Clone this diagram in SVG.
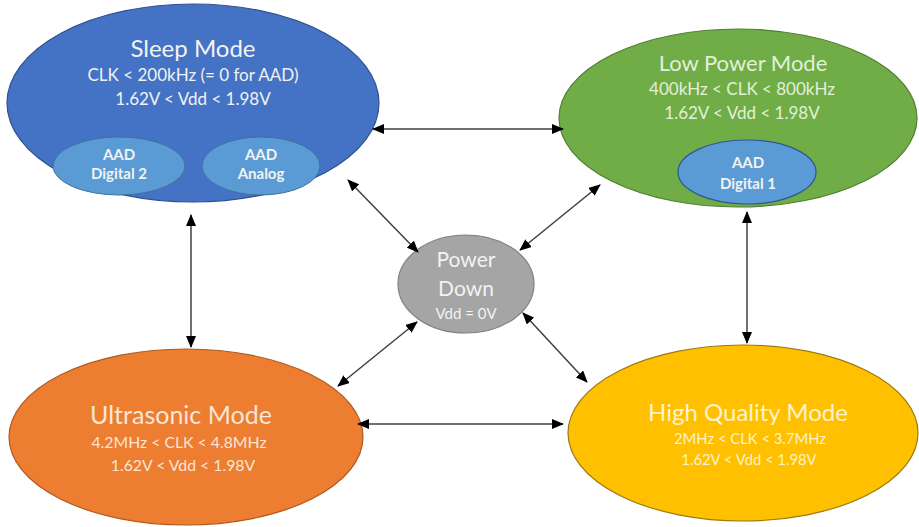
<svg xmlns="http://www.w3.org/2000/svg" width="919" height="527" viewBox="0 0 919 527">
<style>
text{font-family:Lato,"Open Sans","Liberation Sans",sans-serif;text-anchor:middle}
.b{font-size:15px;font-weight:bold;fill:#F2F2F2}
.w{fill:#F2F2F2}
.g{fill:#E2F0D9}
.o{fill:#FBE5D6}
.y{fill:#FFF2CC}
.conn line{stroke:#404040;stroke-width:1.5;marker-start:url(#ah);marker-end:url(#ah)}
</style>
<defs>
<marker id="ah" viewBox="0 0 12 10" refX="11" refY="5" markerWidth="12" markerHeight="10" markerUnits="userSpaceOnUse" orient="auto-start-reverse">
<path d="M0,0 L12,5 L0,10 Z" fill="#000"/>
</marker>
</defs>
<rect width="919" height="527" fill="#fff"/>
<g id="sleep">
<ellipse cx="193" cy="103" rx="186" ry="99" fill="#4472C4" stroke="#2F528F" stroke-width="1.2"/>
<text class="w" x="193" y="57" style="font-size:24px">Sleep Mode</text>
<text class="w" x="193" y="81" style="font-size:17px">CLK &lt; 200kHz (= 0 for AAD)</text>
<text class="w" x="193" y="105" style="font-size:17px">1.62V &lt; Vdd &lt; 1.98V</text>
<g id="aad-digital-2">
<ellipse cx="119" cy="166" rx="66" ry="29" fill="#5B9BD5" stroke="#41719C" stroke-width="1"/>
<text class="b" x="119" y="160">AAD</text>
<text class="b" x="119" y="179">Digital 2</text>
</g>
<g id="aad-analog">
<ellipse cx="261" cy="166" rx="59" ry="29" fill="#5B9BD5" stroke="#41719C" stroke-width="1"/>
<text class="b" x="261" y="160">AAD</text>
<text class="b" x="261" y="179">Analog</text>
</g>
</g>
<g id="low-power">
<ellipse cx="738" cy="118" rx="179" ry="89" fill="#70AD47" stroke="#507E32" stroke-width="1.2"/>
<text class="g" x="743" y="71" style="font-size:22px">Low Power Mode</text>
<text class="g" x="742" y="95" style="font-size:17px">400kHz &lt; CLK &lt; 800kHz</text>
<text class="g" x="742" y="119" style="font-size:17px">1.62V &lt; Vdd &lt; 1.98V</text>
<g id="aad-digital-1">
<ellipse cx="747" cy="172" rx="69" ry="32" fill="#5B9BD5" stroke="#2F5597" stroke-width="1.2"/>
<text class="b" x="748" y="168">AAD</text>
<text class="b" x="748" y="189">Digital 1</text>
</g>
</g>
<g id="power-down">
<ellipse cx="466" cy="284" rx="68" ry="49" fill="#A5A5A5" stroke="#7F7F7F" stroke-width="1.2"/>
<text class="w" x="466" y="267" style="font-size:21px">Power</text>
<text class="w" x="466" y="296" style="font-size:21px">Down</text>
<text class="w" x="466" y="319" style="font-size:15px">Vdd = 0V</text>
</g>
<g id="ultrasonic">
<ellipse cx="186" cy="437" rx="177" ry="88" fill="#ED7D31" stroke="#AE5A21" stroke-width="1.2"/>
<text class="o" x="181" y="424" style="font-size:25px">Ultrasonic Mode</text>
<text class="o" x="179" y="448" style="font-size:15.8px">4.2MHz &lt; CLK &lt; 4.8MHz</text>
<text class="o" x="183" y="471" style="font-size:15.8px">1.62V &lt; Vdd &lt; 1.98V</text>
</g>
<g id="high-quality">
<ellipse cx="743" cy="433" rx="175" ry="88" fill="#FFC000" stroke="#9C7A10" stroke-width="1.2"/>
<text class="y" x="748" y="421" style="font-size:24px">High Quality Mode</text>
<text class="y" x="750" y="444" style="font-size:14.8px">2MHz &lt; CLK &lt; 3.7MHz</text>
<text class="y" x="749" y="465" style="font-size:14.8px">1.62V &lt; Vdd &lt; 1.98V</text>
</g>
<g id="connectors" class="conn">
<line x1="373" y1="129" x2="563" y2="129"/>
<line x1="358" y1="424" x2="563" y2="424"/>
<line x1="191" y1="215" x2="191" y2="347"/>
<line x1="747" y1="212" x2="747" y2="343"/>
<line x1="348" y1="180" x2="418" y2="252"/>
<line x1="600" y1="185" x2="520" y2="250"/>
<line x1="338" y1="386" x2="417" y2="322"/>
<line x1="587" y1="382" x2="523" y2="313"/>
</g>
</svg>
